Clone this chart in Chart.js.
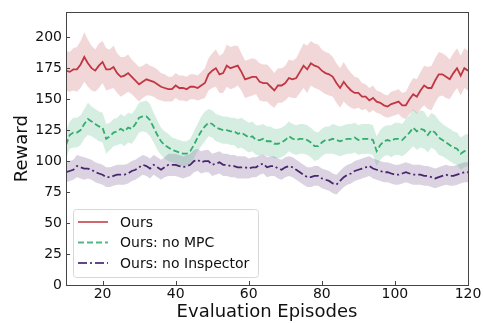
<!DOCTYPE html>
<html lang="en">
<head>
    <meta charset="UTF-8">
    <title>Reward vs Evaluation Episodes</title>
    <script src="https://cdn.jsdelivr.net/npm/chart.js"></script>
    <style>
        body { margin: 0; background: #fff; }
    </style>
</head>
<body>
    <canvas id="rewardChart" width="484" height="323"></canvas>

    <script>
        // episodes 10..120
        const episodes = [];
        for (let e = 10; e <= 120; e++) episodes.push(e);

        const xTicks = [20, 40, 60, 80, 100, 120];
        const yTicks = [0, 25, 50, 75, 100, 125, 150, 175, 200];

        const seriesNames = ['Ours', 'Ours: no MPC', 'Ours: no Inspector'];

        // mean reward per episode
        const oursMean = [
            173, 172, 174, 174, 178, 184, 179, 175, 173, 177,
            180, 174, 174, 176, 171, 168, 169, 171, 168, 165,
            162, 164, 166, 165, 164, 162, 160, 159, 158, 158,
            161, 159, 159, 158, 160, 160, 159, 161, 163, 170,
            173, 175, 170, 171, 177, 175, 176, 177, 172, 166,
            167, 168, 168, 164, 163, 163, 160, 157, 161, 161,
            163, 167, 166, 167, 172, 177, 174, 179, 177, 176,
            173, 171, 170, 168, 163, 159, 164, 160, 157, 155,
            155, 152, 152, 149, 151, 148, 147, 145, 144, 146,
            147, 148, 145, 145, 150, 154, 152, 157, 161, 159,
            159, 165, 170, 170, 168, 166, 171, 175, 169, 175,
            173
        ];
        const oursStd = [
            16, 16, 17, 18, 19, 20, 19, 18, 17, 18,
            17, 17, 16, 17, 16, 16, 15, 15, 14, 14,
            14, 13, 13, 12, 12, 12, 11, 11, 10, 10,
            10, 10, 10, 10, 10, 10, 10, 11, 12, 13,
            14, 15, 15, 16, 17, 17, 17, 16, 15, 15,
            15, 15, 14, 15, 15, 15, 15, 14, 14, 14,
            14, 15, 15, 16, 17, 18, 19, 18, 18, 18,
            17, 17, 17, 16, 16, 16, 16, 15, 14, 13,
            12, 11, 10, 10, 10, 9, 9, 9, 9, 10,
            10, 10, 10, 11, 12, 13, 14, 15, 16, 17,
            18, 18, 18, 17, 17, 16, 16, 16, 16, 16,
            16
        ];

        const noMpcMean = [
            113, 121, 123, 123, 125, 130, 134, 132, 130, 128,
            127, 118, 120, 123, 124, 126, 124, 127, 126, 130,
            135, 136, 136, 133, 127, 121, 116, 113, 111, 109,
            108, 107, 106, 106, 108, 113, 119, 124, 128, 131,
            130, 127, 126, 125, 125, 124, 124, 122, 123, 121,
            119, 120, 117, 117, 118, 116, 116, 114, 114, 115,
            117, 120, 118, 117, 118, 118, 117, 115, 112, 112,
            115, 117, 117, 118, 117, 116, 117, 118, 118, 119,
            117, 118, 118, 118, 117, 108, 113, 116, 117, 116,
            118, 118, 117, 120, 123, 127, 124, 126, 125, 121,
            125, 123, 119, 117, 115, 113, 111, 110, 106, 108,
            109
        ];
        const noMpcStd = [
            11, 11, 12, 12, 12, 12, 13, 12, 12, 12,
            12, 12, 11, 11, 11, 12, 12, 12, 12, 12,
            12, 12, 13, 13, 12, 12, 11, 11, 11, 10,
            10, 10, 10, 10, 10, 11, 11, 12, 12, 11,
            11, 11, 11, 11, 11, 11, 11, 12, 12, 12,
            12, 12, 12, 12, 12, 12, 12, 12, 12, 12,
            12, 12, 12, 12, 12, 12, 12, 12, 12, 11,
            11, 11, 11, 12, 12, 12, 12, 12, 12, 12,
            12, 12, 12, 12, 12, 12, 12, 12, 12, 13,
            13, 13, 13, 14, 14, 15, 15, 15, 15, 14,
            14, 14, 14, 13, 13, 13, 13, 13, 13, 13,
            13
        ];

        const noInspMean = [
            91, 92, 93, 96, 95, 94, 94, 93, 91, 90,
            89, 87, 87, 88, 89, 89, 89, 90, 92, 93,
            95, 97, 96, 94, 97, 95, 93, 95, 97, 97,
            97, 96, 95, 96, 97, 100, 101, 99, 100, 100,
            97, 98, 99, 97, 97, 96, 96, 95, 95, 95,
            94, 95, 95, 97, 98, 95, 96, 96, 94, 93,
            95, 96, 95, 93, 91, 89, 87, 87, 88, 88,
            86, 85, 84, 82, 81, 84, 87, 89, 90, 92,
            93, 94, 95, 96, 94, 93, 92, 91, 91, 90,
            89, 89, 90, 91, 90, 89, 89, 89, 88, 88,
            87, 86, 87, 88, 89, 88, 88, 89, 90, 91,
            91
        ];
        const noInspStd = [
            8, 8, 8, 9, 9, 9, 8, 8, 8, 8,
            8, 8, 8, 8, 8, 8, 8, 8, 8, 8,
            8, 8, 8, 8, 8, 8, 8, 8, 9, 9,
            9, 9, 9, 9, 9, 9, 9, 9, 9, 9,
            9, 9, 9, 9, 9, 9, 9, 9, 9, 9,
            8, 8, 8, 8, 8, 8, 8, 8, 8, 8,
            8, 8, 8, 8, 8, 8, 8, 8, 8, 8,
            8, 8, 8, 8, 8, 8, 8, 8, 8, 8,
            8, 8, 8, 8, 8, 8, 8, 8, 8, 8,
            8, 8, 8, 8, 8, 8, 8, 8, 8, 8,
            8, 8, 8, 8, 8, 8, 8, 8, 8, 8,
            8
        ];

        const colors = ['rgba(192, 55, 66, 1)', 'rgba(52, 172, 108, 1)', 'rgba(74, 36, 112, 1)'];
        const bandColors = ['rgba(192, 55, 66, 0.2)', 'rgba(52, 172, 108, 0.2)', 'rgba(74, 36, 112, 0.2)'];
        const dashes = [[], [6, 3], [9, 3, 2, 3]];

        const means = [oursMean, noMpcMean, noInspMean];
        const stds = [oursStd, noMpcStd, noInspStd];

        function toPoints(values) {
            return values.map((v, i) => ({ x: episodes[i], y: v }));
        }

        const datasets = [];
        means.forEach((m, k) => {
            datasets.push({
                data: toPoints(m.map((v, i) => v + stds[k][i])),
                borderWidth: 0,
                pointRadius: 0,
                backgroundColor: bandColors[k],
                fill: '+1',
                order: 2
            });
            datasets.push({
                data: toPoints(m.map((v, i) => v - stds[k][i])),
                borderWidth: 0,
                pointRadius: 0,
                fill: false,
                order: 2
            });
        });
        means.forEach((m, k) => {
            datasets.push({
                label: seriesNames[k],
                data: toPoints(m),
                borderColor: colors[k],
                borderWidth: 1.8,
                borderDash: dashes[k],
                pointRadius: 0,
                fill: false,
                order: 1
            });
        });

        // frame, inward ticks and legend box, matplotlib style
        const framePlugin = {
            id: 'frame',
            afterDraw(chart) {
                const ctx = chart.ctx;
                const a = chart.chartArea;
                ctx.save();
                ctx.strokeStyle = '#444';
                ctx.lineWidth = 1;
                ctx.strokeRect(Math.round(a.left) + 0.5, Math.round(a.top) + 0.5,
                    Math.round(a.right - a.left), Math.round(a.bottom - a.top));

                ctx.beginPath();
                xTicks.forEach(t => {
                    const px = Math.round(chart.scales.x.getPixelForValue(t)) + 0.5;
                    ctx.moveTo(px, a.bottom);
                    ctx.lineTo(px, a.bottom - 4);
                });
                yTicks.forEach(t => {
                    const py = Math.round(chart.scales.y.getPixelForValue(t)) + 0.5;
                    ctx.moveTo(a.left, py);
                    ctx.lineTo(a.left + 4, py);
                });
                ctx.stroke();

                // legend
                const lx = 73, ly = 209, lw = 185, lh = 68;
                ctx.fillStyle = 'rgba(255,255,255,0.8)';
                ctx.strokeStyle = '#d8d8d8';
                ctx.beginPath();
                ctx.roundRect(lx + 0.5, ly + 0.5, lw, lh, 3);
                ctx.fill();
                ctx.stroke();

                ctx.font = '14px "DejaVu Sans"';
                ctx.textBaseline = 'middle';
                seriesNames.forEach((name, k) => {
                    const cy = ly + 13 + k * 20.5;
                    ctx.strokeStyle = colors[k];
                    ctx.globalAlpha = 0.85;
                    ctx.lineWidth = 1.8;
                    ctx.setLineDash(dashes[k]);
                    ctx.beginPath();
                    ctx.moveTo(78, cy);
                    ctx.lineTo(108, cy);
                    ctx.stroke();
                    ctx.setLineDash([]);
                    ctx.globalAlpha = 1;
                    ctx.fillStyle = '#111';
                    ctx.fillText(name, 120, cy + 1);
                });
                ctx.restore();
            }
        };

        new Chart(document.getElementById('rewardChart'), {
            type: 'line',
            data: { datasets: datasets },
            options: {
                responsive: false,
                animation: false,
                devicePixelRatio: 1,
                layout: { padding: { left: 0, right: 16, top: 10, bottom: 0 } },
                plugins: {
                    legend: { display: false },
                    tooltip: { enabled: false }
                },
                scales: {
                    x: {
                        type: 'linear',
                        min: 10,
                        max: 120,
                        afterBuildTicks: s => { s.ticks = xTicks.map(v => ({ value: v })); },
                        afterFit: s => { s.height = 38; },
                        grid: { display: false, drawTicks: false },
                        border: { display: false },
                        ticks: { color: '#111', font: { family: 'DejaVu Sans', size: 14 }, padding: 1, maxRotation: 0 },
                        title: { display: true, text: 'Evaluation Episodes', color: '#111', font: { family: 'DejaVu Sans', size: 18 }, padding: { top: 2, bottom: 0 } }
                    },
                    y: {
                        min: 0,
                        max: 220,
                        afterBuildTicks: s => { s.ticks = yTicks.map(v => ({ value: v })); },
                        afterFit: s => { s.width = 66; },
                        grid: { display: false, drawTicks: false },
                        border: { display: false },
                        ticks: { color: '#111', font: { family: 'DejaVu Sans', size: 14 }, padding: 4 },
                        title: { display: true, text: 'Reward', color: '#111', font: { family: 'DejaVu Sans', size: 18 }, padding: { top: 12, bottom: 0 } }
                    }
                }
            },
            plugins: [framePlugin]
        });
    </script>
</body>
</html>
